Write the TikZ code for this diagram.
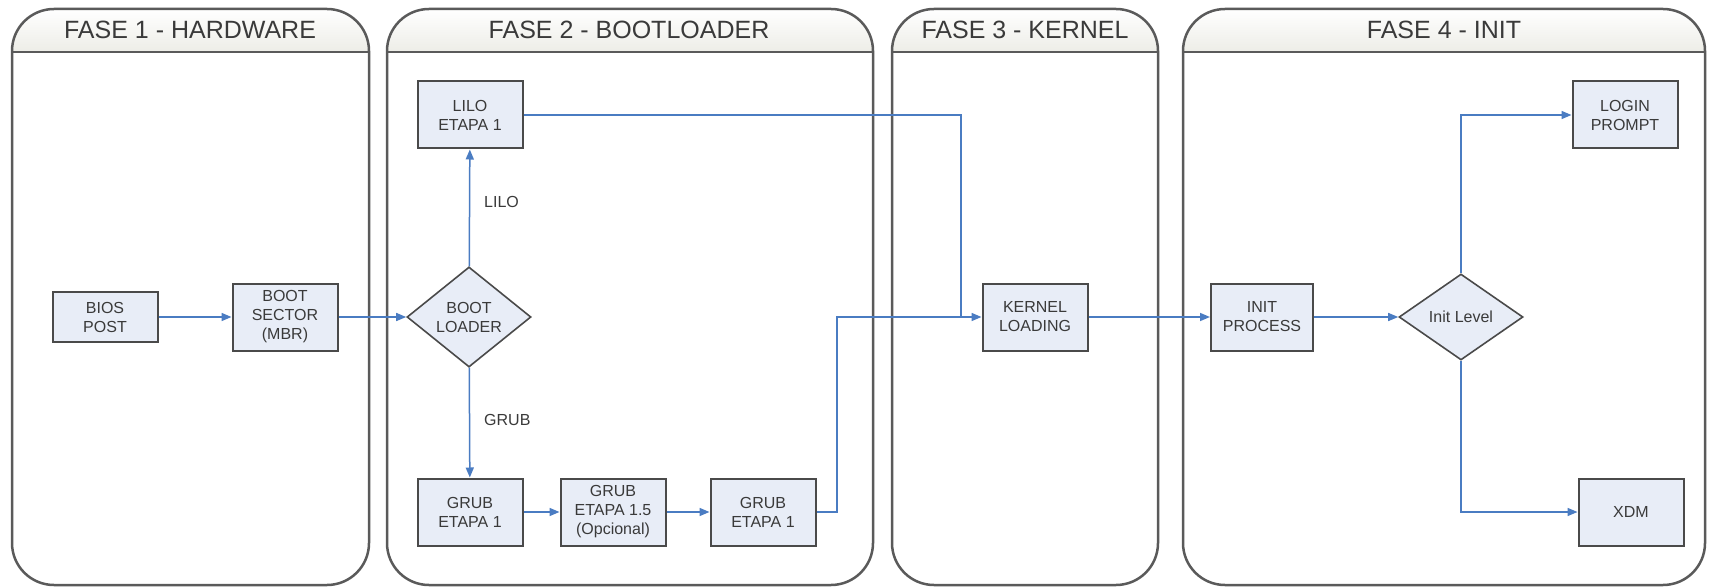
\documentclass[tikz,border=0pt]{standalone}
\usepackage{fontspec}
\setmainfont{Liberation Sans}
\usetikzlibrary{arrows.meta,shapes.geometric}
\definecolor{lanec}{HTML}{5A5A5A}
\definecolor{hdrfill}{HTML}{EDEDE7}
\definecolor{boxfill}{HTML}{E8EDF7}
\definecolor{boxdraw}{HTML}{4A4A4A}
\definecolor{arrc}{HTML}{4A7CC2}
\definecolor{txt}{HTML}{3A3A3A}
\begin{document}
\begin{tikzpicture}[x=1pt,y=-1pt,
  lanebox/.style={draw=lanec,line width=2.5pt,rounded corners=42pt},
  hdr/.style={font=\fontsize{25}{27}\selectfont,text=txt,inner sep=0pt},
  procbox/.style={draw=boxdraw,line width=2pt,fill=boxfill,minimum width=105pt,minimum height=67pt,
    align=center,inner sep=1pt,text=txt,font=\fontsize{16}{19}\selectfont},
  decision/.style={diamond,draw=boxdraw,line width=1.6pt,fill=boxfill,minimum width=124pt,minimum height=86pt,
    align=center,inner sep=1pt,text=txt,font=\fontsize{16}{19}\selectfont},
  conn/.style={draw=arrc,line width=1.5pt},
  arr/.style={conn,-{Triangle[length=10pt,width=8pt]}},
  lbl/.style={text=txt,font=\fontsize{16}{19}\selectfont,inner sep=0pt}]
\useasboundingbox (0,0) rectangle (1710,588);
\fill[white] (0,0) rectangle (1710,588);
% swimlanes
\foreach \a/\b/\c/\t/\n in {12/369/190/FASE 1 - HARDWARE/h1, 387/873/629/FASE 2 - BOOTLOADER/h2, 892/1158/1025/FASE 3 - KERNEL/h3, 1183/1705/1444/FASE 4 - INIT/h4}{
  \begin{scope}
    \clip[rounded corners=42pt] (\a,9) rectangle (\b,585);
    \shade[top color=white,bottom color=hdrfill] (\a,9) rectangle (\b,52);
  \end{scope}
  \draw[lanebox] (\a,9) rectangle (\b,585);
  \draw[lanec,line width=2.5pt] (\a,52) -- (\b,52);
  \node[hdr] (\n) at (\c,30) {\t};
}
% nodes
\node[procbox,minimum height=50pt] (bios) at (105,317) {BIOS\\POST};
\node[procbox] (boot) at (285,317) {BOOT\\SECTOR\\(MBR)};
\node[decision] (bl) at (469,317) {BOOT\\LOADER};
\node[procbox] (lilo) at (470,115) {LILO\\ETAPA 1};
\node[procbox] (grub1) at (470,512) {GRUB\\ETAPA 1};
\node[procbox] (grub15) at (613,512) {GRUB\\ETAPA 1.5\\(Opcional)};
\node[procbox] (grub2) at (763,512) {GRUB\\ETAPA 1};
\node[procbox] (kernel) at (1035,317) {KERNEL\\LOADING};
\node[procbox,minimum width=102pt] (init) at (1262,317) {INIT\\PROCESS};
\node[decision] (il) at (1461,317) {Init Level};
\node[procbox] (login) at (1625,115) {LOGIN\\PROMPT};
\node[procbox] (xdm) at (1631,512) {XDM};
\node[lbl,anchor=west] (lblilo) at (484,202) {LILO};
\node[lbl,anchor=west] (lblgrub) at (484,420) {GRUB};
\coordinate (lk) at (961,317);
\coordinate (gk) at (837,317);
% connectors
\draw[arr] (bios) -- (boot);
\draw[arr] (boot) -- (bl);
\draw[arr] (bl) -- (lilo);
\draw[arr] (bl) -- (grub1);
\draw[arr] (grub1) -- (grub15);
\draw[arr] (grub15) -- (grub2);
\draw[conn] (lilo.east) -| (lk);
\draw[arr] (grub2.east) -| (gk) -- (kernel.west);
\draw[arr] (kernel) -- (init);
\draw[arr] (init) -- (il);
\draw[arr] (il.north) |- (login.west);
\draw[arr] (il.south) |- (xdm.west);
\end{tikzpicture}
\end{document}
